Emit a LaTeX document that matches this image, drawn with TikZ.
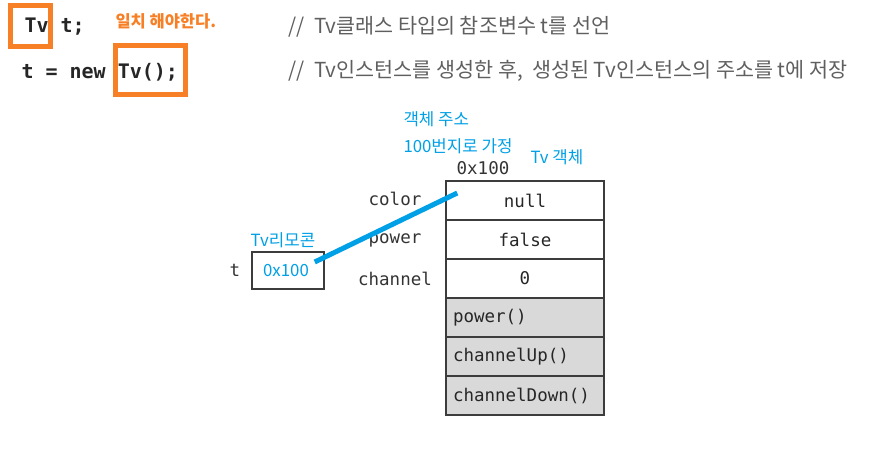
\documentclass[tikz,border=0pt]{standalone}
\usepackage{fontspec}
\usepackage{tikz}
\usetikzlibrary{calc,positioning}
\newfontfamily\krfont{Noto Sans CJK KR}
\newfontfamily\monofont{DejaVu Sans Mono}
\definecolor{lblue}{RGB}{0,160,230}
\definecolor{markorange}{RGB}{247,128,38}
\definecolor{boxgray}{RGB}{60,60,60}
\definecolor{commentgray}{RGB}{95,95,95}
\tikzstyle{every node}=[line width=1pt]

\begin{document}
\begin{tikzpicture}[x=1pt, y=-1pt]
          \tikzstyle{code} = [font=\monofont\bfseries\fontsize{20}{24}\selectfont, text=black!85, inner sep=0pt, anchor=west]
          \tikzstyle{comment} = [font=\krfont\fontsize{20.7}{24}\selectfont, text=commentgray, inner sep=0pt, anchor=west]
          \tikzstyle{markbox} = [draw=markorange, line width=5pt, inner sep=0pt]
          \tikzstyle{fieldname} = [font=\monofont\fontsize{17.5}{21}\selectfont, text=black!80, inner sep=0pt]
          \tikzstyle{note} = [font=\krfont\fontsize{16.8}{20}\selectfont, text=lblue, inner sep=0pt]
          \tikzstyle{field} = [draw=boxgray, line width=1.5pt, minimum width=158pt, minimum height=39pt, font=\monofont\fontsize{17.5}{21}\selectfont, text=black!85]
          \tikzstyle{method} = [field, fill=gray!30, text width=144pt, align=left]

          \useasboundingbox (0,0) rectangle (879,452);

          % source code and comments
          \node[code] (decl) at (24,27) {Tv t;};
          \node[code] (init) at (21,72) {t = new Tv();};
          \node[markbox, minimum width=40pt, minimum height=41pt] (markdecl) at (30.5,26) {};
          \node[markbox, minimum width=70pt, minimum height=49pt] (markinit) at (150.5,70) {};
          \node[font=\krfont\bfseries\fontsize{16.5}{20}\selectfont, text=markorange, inner sep=0pt, anchor=west] (match) at (115,21) {일치 해야한다.};
          \node[comment] (cdecl) at (288,27) {//\ \ Tv클래스 타입의 참조변수 t를 선언};
          \node[comment] (cinit) at (288,71) {//\ \ Tv인스턴스를 생성한 후,\ \ 생성된 Tv인스턴스의 주소를 t에 저장};

          % Tv object
          \node[field] (color) at (525,200.5) {null};
          \node[field] (power) at (525,239.5) {false};
          \node[field] (channel) at (525,278.5) {0};
          \node[method] (mpower) at (525,317.5) {power()};
          \node[method] (mup) at (525,356.5) {channelUp()};
          \node[method] (mdown) at (525,395.5) {channelDown()};

          \node[fieldname] (lcolor) at (395,199) {color};
          \node[fieldname] (lpower) at (395,240) {power};
          \node[fieldname] (lchannel) at (395,279) {channel};
          \node[fieldname] (addr) at (483,168) {0x100};

          % reference variable
          \node[draw=boxgray, line width=1.5pt, minimum width=72pt, minimum height=37pt, inner sep=0pt] (tref) at (288,270.5) {};
          \node[note] (tval) at (286,271) {0x100};
          \node[fieldname] (tname) at (235,270) {t};

          % notes
          \node[note, anchor=west] (objaddr) at (403,119) {객체 주소};
          \node[note, anchor=west] (assume) at (403,146) {100번지로 가정};
          \node[note, anchor=west] (objname) at (530,157) {Tv 객체};
          \node[note] (remote) at (283,240) {Tv리모콘};

          \coordinate (src) at ([xshift=-10pt, yshift=8.5pt]tref.east);
          \coordinate (dst) at ([xshift=12pt, yshift=7.5pt]color.west);
          \draw[lblue, line width=5pt] (src) -- (dst);
        \end{tikzpicture}
\end{document}
